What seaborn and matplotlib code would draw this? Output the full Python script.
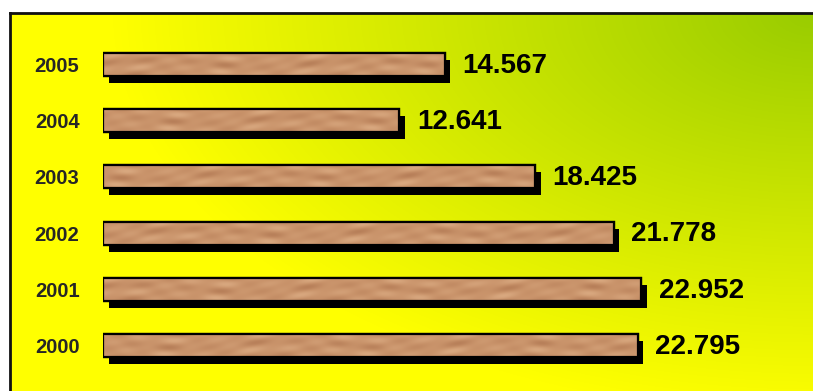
import numpy as np
import pandas as pd
import matplotlib
matplotlib.use("Agg")
import matplotlib.pyplot as plt
import matplotlib.patheffects as pe
from matplotlib.patches import Rectangle
import seaborn as sns

# Yearly figures, top row first
years = ["2005", "2004", "2003", "2002", "2001", "2000"]
values = [14.567, 12.641, 18.425, 21.778, 22.952, 22.795]
value_labels = ["14.567", "12.641", "18.425", "21.778", "22.952", "22.795"]

sns.set_style("white")
plt.rcParams["font.family"] = ["Liberation Sans", "DejaVu Sans"]

W_PX, H_PX, DPI = 813, 391, 100
fig = plt.figure(figsize=(W_PX / DPI, H_PX / DPI), dpi=DPI)
fig.patch.set_facecolor("white")

# ---- framed background with a corner gradient (green top-right -> yellow)
box_left, box_top = 10, 13
bg = fig.add_axes([box_left / W_PX, 0, 1 - box_left / W_PX, 1 - box_top / H_PX])
xs = np.arange(box_left, W_PX) + 0.5
ys = np.arange(box_top, H_PX) + 0.5
X, Y = np.meshgrid(xs, ys)
t = np.sqrt(((W_PX - X) / 700.0) ** 2 + ((Y - box_top) / 400.0) ** 2)
t = np.clip(t, 0, 1)
green = np.array([0x99, 0xCC, 0x00]) / 255.0
yellow = np.array([0xFF, 0xFF, 0x00]) / 255.0
grad = green[None, None, :] * (1 - t[..., None]) + yellow[None, None, :] * t[..., None]
bg.imshow(grad, aspect="auto", extent=(0, 1, 0, 1), interpolation="bilinear")
bg.set_xlim(0, 1)
bg.set_ylim(0, 1)
bg.set_xticks([])
bg.set_yticks([])
for side in ("right", "bottom"):
    bg.spines[side].set_visible(False)
for side in ("left", "top"):
    bg.spines[side].set_linewidth(2.0)
    bg.spines[side].set_color("#111111")

# ---- bar axes: x = 0 sits at px 103, 23.45 px per unit
px_per_unit = 23.45
x0_px = 103
xmax = 29.0
row_px = 56.2
first_center_px = 64.5
ax_top_px = first_center_px - row_px / 2
ax_h_px = row_px * len(years)
ax = fig.add_axes([x0_px / W_PX,
                   1 - (ax_top_px + ax_h_px) / H_PX,
                   xmax * px_per_unit / W_PX,
                   ax_h_px / H_PX])
ax.patch.set_alpha(0)

df = pd.DataFrame({"year": years, "value": values})
sns.barplot(data=df, x="value", y="year", order=years, orient="h",
            color="#C8926A", edgecolor="black", linewidth=1.6,
            width=0.41, saturation=1, ax=ax)

ax.set_xlim(0, xmax)
ax.set_ylim(len(years) - 0.5, -0.5)

# soft horizontal wood grain for the bar faces
def wood_texture(n_cols, n_rows, phase):
    u = np.arange(n_cols)[None, :].astype(float)
    v = np.arange(n_rows)[:, None] / max(n_rows - 1, 1)
    wave = 0.25 * np.sin(2 * np.pi * u / 210.0 + phase)
    bands = np.sin(2 * np.pi * (1.6 * v + wave))
    patches = 0.5 + 0.5 * np.sin(2 * np.pi * u / 95.0 + 1.9 * phase)
    streak = 0.6 * bands * patches + 0.4 * np.sin(2 * np.pi * u / 41.0 + 3 * v + phase) * bands
    base = np.array([0.79, 0.58, 0.42])
    light = np.array([0.85, 0.66, 0.50])
    dark = np.array([0.72, 0.50, 0.35])
    b = np.clip(streak, -1, 1)[..., None]
    img = np.where(b > 0, base + (light - base) * b, base + (base - dark) * b)
    return np.clip(img, 0, 1)

shadow = [pe.SimplePatchShadow(offset=(4.0, -5.0), shadow_rgbFace="black", alpha=1.0),
          pe.Normal()]

for i, bar in enumerate(list(ax.patches)):
    bx, by = bar.get_x(), bar.get_y()
    bw, bh = bar.get_width(), bar.get_height()
    bar.set_path_effects(shadow)
    bar.set_zorder(2)
    tex = wood_texture(int(bw * px_per_unit) + 2, 24, phase=1.7 * i)
    im = ax.imshow(tex, extent=(bx, bx + bw, by + bh, by), aspect="auto",
                   interpolation="bilinear", zorder=2.5)
    im.set_clip_path(bar)
    ax.add_patch(Rectangle((bx, by), bw, bh, facecolor="none",
                           edgecolor="black", linewidth=1.6, zorder=3))
    ax.annotate(value_labels[i], xy=(bx + bw, by + bh / 2),
                xytext=(12.5, -1), textcoords="offset points",
                ha="left", va="center", fontsize=20, fontweight="bold",
                color="black", zorder=4)

ax.set_xlim(0, xmax)
ax.set_ylim(len(years) - 0.5, -0.5)
ax.set_xlabel("")
ax.set_ylabel("")
ax.set_xticks([])
ax.tick_params(axis="y", length=0, pad=17)
for lab in ax.get_yticklabels():
    lab.set_fontsize(14.5)
    lab.set_fontweight("bold")
sns.despine(ax=ax, left=True, bottom=True)

fig.savefig("out.png", dpi=DPI)
